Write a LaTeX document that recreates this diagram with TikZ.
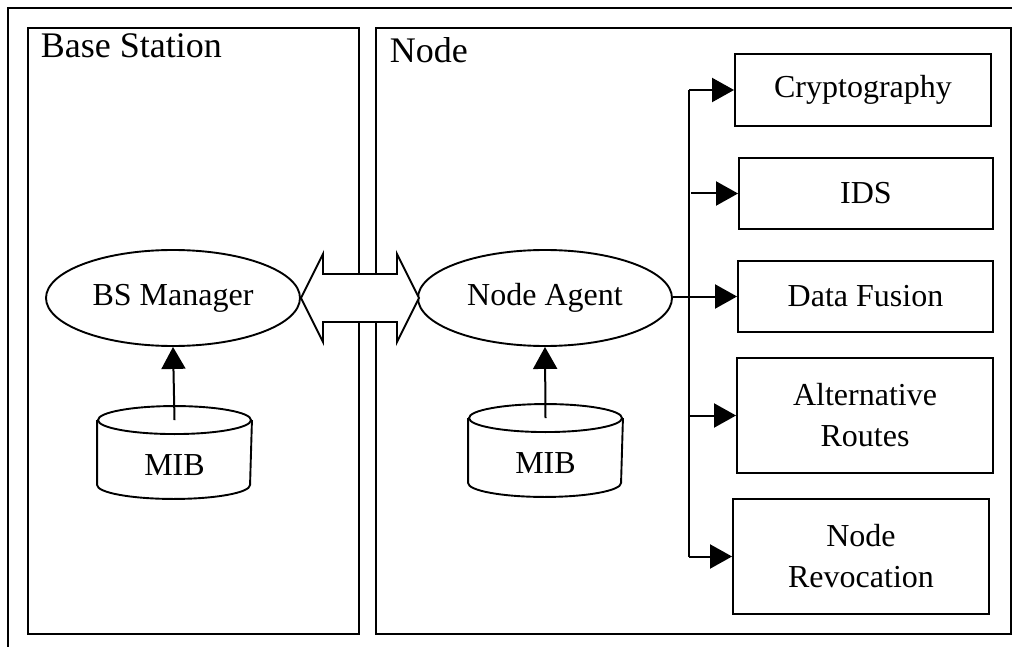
\documentclass[tikz,border=0pt]{standalone}
\usepackage{fontspec}
\setmainfont{Liberation Serif}
\usetikzlibrary{shapes.geometric,arrows.meta,calc}
\begin{document}
\begin{tikzpicture}[x=1pt,y=1pt,line width=1.9pt,
  panel/.style={draw,rectangle,line width=1.9pt,anchor=north west,inner sep=0pt},
  ell/.style={draw,ellipse,inner sep=0pt,minimum width=254pt,minimum height=96pt,font=\fontsize{32}{38}\selectfont},
  box/.style={draw,rectangle,inner sep=0pt,font=\fontsize{32}{41}\selectfont,align=center},
  cyl/.style={inner sep=0pt,minimum width=153pt,minimum height=91pt},
  cyltext/.style={inner sep=0pt,font=\fontsize{32}{38}\selectfont},
  arr/.style={-{Triangle[length=22pt,width=24pt]},line width=2pt},
  lab/.style={font=\fontsize{36}{40}\selectfont,anchor=base west,inner sep=0pt}]
\useasboundingbox (0,0) rectangle (1012,-647);
% outer frame (cropped)
\draw[line width=1.9pt] (8,-647) -- (8,-8) -- (1012,-8);
% panels
\node[panel,minimum width=331pt,minimum height=606pt] (bs) at (27,-27) {};
\node[panel,minimum width=635pt,minimum height=606pt] (nd) at (375,-27) {};
\node[lab] (bslab) at (40,-58) {Base Station};
\node[lab] (ndlab) at (389,-63) {Node};
% ellipses
\node[ell] (bsm) at (173,-298) {BS Manager};
\node[ell] (na) at (545,-298) {Node Agent};
% double arrow
\draw[fill=white,line width=1.9pt,line join=miter] (bsm.east) -- ++(22,44) -- ++(0,-20) -- ++(74,0) -- ++(0,20)
  -- ++(22,-44) -- ++(-22,-44) -- ++(0,20) -- ++(-74,0) -- ++(0,-20) -- cycle;
% MIB cylinders
\node[cyl] (mib1c) at (174.5,-452.5) {};
\node[cyltext] (mib1) at ([yshift=-13pt]mib1c.center) {MIB};
\draw ([yshift=-14pt]mib1c.north) ellipse [x radius=76.5pt,y radius=14pt];
\draw ([yshift=-14pt]mib1c.north west) -- ([yshift=14pt]mib1c.south west)
  arc[start angle=180,end angle=360,x radius=76.5pt,y radius=14pt] -- ([yshift=-14pt]mib1c.north east);
\node[cyl] (mib2c) at (545.5,-450.5) {};
\node[cyltext] (mib2) at ([yshift=-13pt]mib2c.center) {MIB};
\draw ([yshift=-14pt]mib2c.north) ellipse [x radius=76.5pt,y radius=14pt];
\draw ([yshift=-14pt]mib2c.north west) -- ([yshift=14pt]mib2c.south west)
  arc[start angle=180,end angle=360,x radius=76.5pt,y radius=14pt] -- ([yshift=-14pt]mib2c.north east);
\draw[arr] ([yshift=-14pt]mib1c.north) -- (bsm.south);
\draw[arr] ([yshift=-14pt]mib2c.north) -- (na.south);
% right boxes
\node[box,minimum width=256pt,minimum height=72pt] (cry) at (863,-90) {Cryptography};
\node[box,minimum width=254pt,minimum height=71pt] (ids) at (866,-193.5) {IDS};
\node[box,minimum width=255pt,minimum height=71pt] (df) at (865.5,-296.5) {Data Fusion};
\node[box,minimum width=256pt,minimum height=115pt] (alt) at (865,-415.5) {Alternative\\Routes};
\node[box,minimum width=256pt,minimum height=115pt] (rev) at (861,-556.5) {Node\\Revocation};
% bus
\coordinate (bt) at (689,-90);
\coordinate (bb) at (rev.west -| bt);
\draw[line width=2pt] (bt) -- (bb);
\draw[arr] (bt) -- (cry.west);
\draw[arr] ([xshift=-47pt]ids.west) -- (ids.west);
\draw[arr] (na.east |- df.west) -- (df.west);
\draw[arr] (alt.west -| bt) -- (alt.west);
\draw[arr] (bb) -- (rev.west);
\end{tikzpicture}
\end{document}
